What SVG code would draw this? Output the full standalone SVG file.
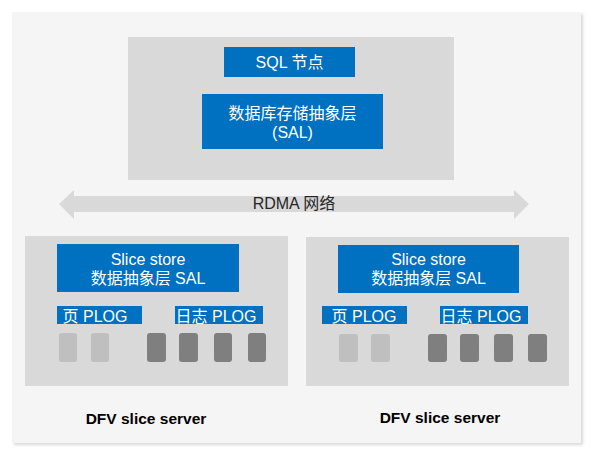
<svg xmlns="http://www.w3.org/2000/svg" width="591" height="458" viewBox="0 0 591 458">
<style>
text{font-family:"Liberation Sans","Noto Sans CJK SC",sans-serif;font-size:16px;text-anchor:middle}
.w{fill:#ffffff}
.blue{fill:#0070c0}
.panel{fill:#d9d9d9}
.lt{fill:#bfbfbf}
.dk{fill:#7f7f7f}
.lbl{fill:#000000;font-weight:bold;font-size:15.5px}
</style>
<defs>
<filter id="sh" x="-5%" y="-5%" width="110%" height="110%">
<feDropShadow dx="2" dy="2" stdDeviation="1.5" flood-color="#000" flood-opacity="0.15"/>
</filter>
</defs>
<rect width="591" height="458" fill="#ffffff"/>
<rect x="12" y="12" width="569" height="431" fill="#f5f5f5" filter="url(#sh)"/>
<g id="sql-host">
<rect class="panel" x="128" y="37" width="326" height="143"/>
</g>
<g id="sql-node">
<rect class="blue" x="224" y="47" width="131" height="30"/>
<text class="w" x="289.5" y="68">SQL 节点</text>
</g>
<g id="sal">
<rect class="blue" x="202" y="94" width="181" height="55"/>
<text class="w" x="292.5" y="119">数据库存储抽象层</text>
<text class="w" x="292.5" y="138">(SAL)</text>
</g>
<g id="connectors">
<polygon fill="#d9d9d9" points="59,204 74,190 74,196 514,196 514,190 529,204 514,219 514,212 74,212 74,219"/>
</g>
<g id="rdma-label">
<text x="294" y="209" fill="#262626">RDMA 网络</text>
</g>
<g id="server1">
<rect class="panel" x="25" y="236" width="263" height="150"/>
<rect class="blue" x="57" y="244" width="182" height="48"/>
<text class="w" x="148" y="265">Slice store</text>
<text class="w" x="148" y="284">数据抽象层 SAL</text>
<rect class="blue" x="57" y="306" width="85" height="18"/>
<text class="w" x="95" y="322">页 PLOG</text>
<rect class="blue" x="175" y="306" width="88" height="18"/>
<text class="w" x="216" y="322">日志 PLOG</text>
<rect class="lt" x="59" y="333" width="18" height="29" rx="3"/>
<rect class="lt" x="91" y="333" width="18" height="29" rx="3"/>
<rect class="dk" x="147" y="333" width="19" height="29" rx="3"/>
<rect class="dk" x="179" y="333" width="19" height="29" rx="3"/>
<rect class="dk" x="214" y="333" width="18" height="29" rx="3"/>
<rect class="dk" x="248" y="333" width="18" height="29" rx="3"/>
<text class="lbl" x="146" y="424">DFV slice server</text>
</g>
<g id="server2">
<rect class="panel" x="306" y="237" width="263" height="149"/>
<rect class="blue" x="338" y="245" width="181" height="48"/>
<text class="w" x="428.5" y="265">Slice store</text>
<text class="w" x="428.5" y="284">数据抽象层 SAL</text>
<rect class="blue" x="322" y="306" width="85" height="18"/>
<text class="w" x="364" y="322">页 PLOG</text>
<rect class="blue" x="440" y="306" width="88" height="18"/>
<text class="w" x="481" y="322">日志 PLOG</text>
<rect class="lt" x="339" y="334" width="19" height="28" rx="3"/>
<rect class="lt" x="371" y="334" width="19" height="28" rx="3"/>
<rect class="dk" x="428" y="334" width="19" height="28" rx="3"/>
<rect class="dk" x="460" y="334" width="19" height="28" rx="3"/>
<rect class="dk" x="494" y="334" width="19" height="28" rx="3"/>
<rect class="dk" x="528" y="334" width="19" height="28" rx="3"/>
<text class="lbl" x="440" y="423">DFV slice server</text>
</g>
</svg>
